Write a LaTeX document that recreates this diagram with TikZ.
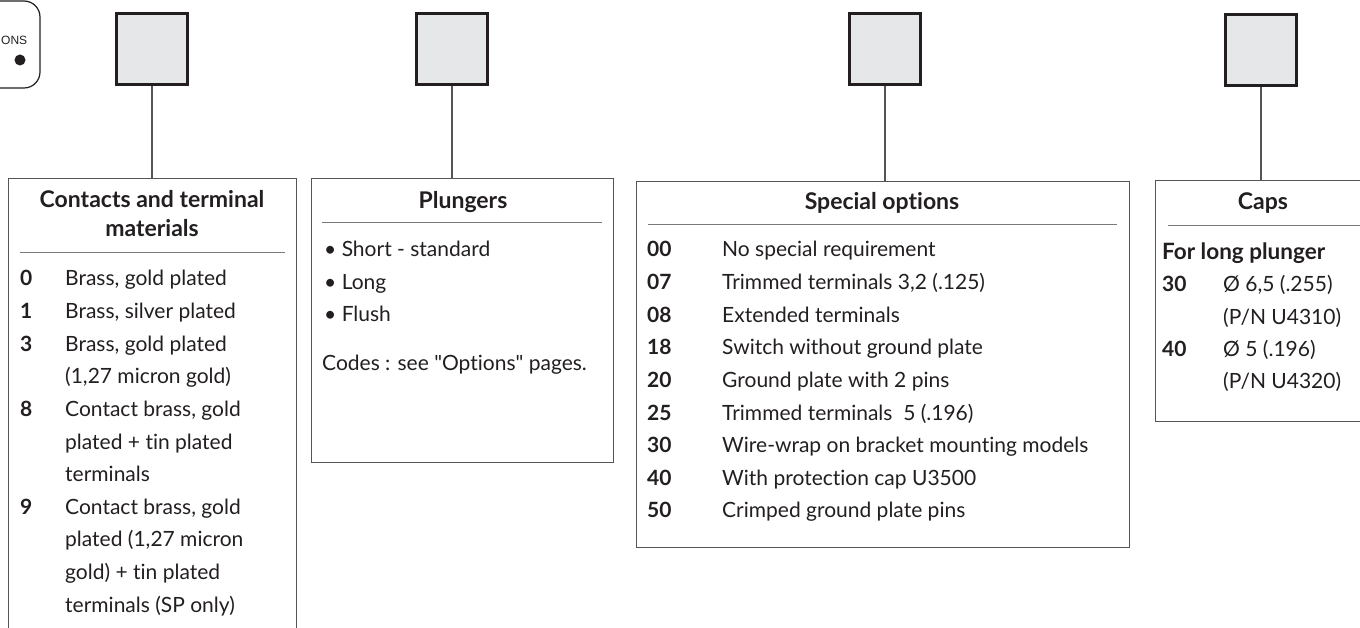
\documentclass[tikz,border=0pt]{standalone}
\usepackage{fontspec}
\setmainfont{Lato}[Ligatures={NoCommon,TeXOff}]
\newfontfamily\arialf{Liberation Sans}
\definecolor{ink}{HTML}{231F20}
\definecolor{sqfill}{HTML}{E6E7E8}
\definecolor{frame}{HTML}{555555}
\definecolor{rulec}{HTML}{7A7A7A}
\begin{document}
\begin{tikzpicture}[x=1pt,y=-1pt,
  sq/.style={draw=ink,fill=sqfill,line width=2.6pt,minimum width=71pt,minimum height=71pt,inner sep=0pt},
  panel/.style={draw=frame,line width=1.2pt,inner sep=0pt,anchor=north west},
  conn/.style={draw=frame,line width=1.2pt},
  rulel/.style={draw=rulec,line width=1pt},
  ttl/.style={font=\fontsize{23}{27}\selectfont\bfseries,text=ink,anchor=base,inner sep=0pt},
  hdr/.style={font=\fontsize{22.5}{27}\selectfont\bfseries,text=ink,anchor=base west,inner sep=0pt},
  num/.style={font=\fontsize{21}{25}\selectfont\bfseries,text=ink,anchor=base west,inner sep=0pt},
  txt/.style={font=\fontsize{21}{25}\selectfont,text=ink,anchor=base west,inner sep=0pt}]
\useasboundingbox (0,0) rectangle (1360,628);
\clip (0,0) rectangle (1360,628);
\fill[white] (0,0) rectangle (1360,628);

% top-left partial option box
\draw[ink,line width=1.2pt,rounded corners=16pt] (-200,1) -- (40,1) -- (40,88) -- (-200,88);
\node[font=\arialf\fontsize{12}{14}\selectfont,text=ink,anchor=base west,inner sep=0pt] (opt) at (1,45) {ONS};
\fill[ink] (20,60) circle (5.5pt);

% squares
\node[sq] (s1) at (152,49) {};
\node[sq] (s2) at (452,49) {};
\node[sq] (s3) at (885,49) {};
\node[sq] (s4) at (1261,50) {};

% panels
\node[panel,minimum width=288pt,minimum height=520pt] (b1) at (8,178) {};
\node[panel,minimum width=302pt,minimum height=284pt] (b2) at (311,178) {};
\node[panel,minimum width=493pt,minimum height=366pt] (b3) at (636,181) {};
\node[panel,minimum width=260pt,minimum height=241pt] (b4) at (1155,180) {};

% connectors
\draw[conn] (s1.south) -- (s1.south |- b1.north);
\draw[conn] (s2.south) -- (s2.south |- b2.north);
\draw[conn] (s3.south) -- (s3.south |- b3.north);
\draw[conn] (s4.south) -- (s4.south |- b4.north);

% panel 1
\node[ttl] (t1a) at (152,208) {Contacts and terminal};
\node[ttl] (t1b) at (152,237) {materials};
\draw[rulel] (20,253) -- (285,253);
\node[num] (n10) at (20,286) {0};   \node[txt] (x10) at (65,286) {Brass, gold plated};
\node[num] (n11) at (20,318.6) {1}; \node[txt] (x11) at (65,318.6) {Brass, silver plated};
\node[num] (n13) at (20,351.2) {3}; \node[txt] (x13) at (65,351.2) {Brass, gold plated};
                                    \node[txt] (x13b) at (65,383.8) {(1,27 micron gold)};
\node[num] (n18) at (20,416.4) {8}; \node[txt] (x18) at (65,416.4) {Contact brass, gold};
                                    \node[txt] (x18b) at (65,449) {plated + tin plated};
                                    \node[txt] (x18c) at (65,481.6) {terminals};
\node[num] (n19) at (20,514.2) {9}; \node[txt] (x19) at (65,514.2) {Contact brass, gold};
                                    \node[txt] (x19b) at (65,546.8) {plated (1,27 micron};
                                    \node[txt] (x19c) at (65,579.4) {gold) + tin plated};
                                    \node[txt] (x19d) at (65,612) {terminals (SP only)};

% panel 2
\node[ttl] (t2) at (463,209) {Plungers};
\draw[rulel] (322,223) -- (602,223);
\node[txt] (p1) at (324,257) {\textbullet\ Short - standard};
\node[txt] (p2) at (324,290) {\textbullet\ Long};
\node[txt] (p3) at (324,322) {\textbullet\ Flush};
\node[txt] (p4) at (322,370) {Codes : see "Options" pages.};

% panel 3
\node[ttl] (t3) at (882,210) {Special options};
\draw[rulel] (648,225) -- (1117,225);
\node[num] (n300) at (647,257) {00}; \node[txt] (x300) at (722,257) {No special requirement};
\node[num] (n307) at (647,289.6) {07}; \node[txt] (x307) at (722,289.6) {Trimmed terminals 3,2 (.125)};
\node[num] (n308) at (647,322.2) {08}; \node[txt] (x308) at (722,322.2) {Extended terminals};
\node[num] (n318) at (647,354.8) {18}; \node[txt] (x318) at (722,354.8) {Switch without ground plate};
\node[num] (n320) at (647,387.4) {20}; \node[txt] (x320) at (722,387.4) {Ground plate with 2 pins};
\node[num] (n325) at (647,420) {25}; \node[txt] (x325) at (722,420) {Trimmed terminals\ \ 5 (.196)};
\node[num] (n330) at (647,452.6) {30}; \node[txt] (x330) at (722,452.6) {Wire-wrap on bracket mounting models};
\node[num] (n340) at (647,485.2) {40}; \node[txt] (x340) at (722,485.2) {With protection cap U3500};
\node[num] (n350) at (647,517.8) {50}; \node[txt] (x350) at (722,517.8) {Crimped ground plate pins};

% panel 4
\node[ttl] (t4) at (1263,210) {Caps};
\draw[rulel] (1168,226) -- (1400,226);
\node[hdr] (n4h) at (1162,260) {For long plunger};
\node[num] (n430) at (1162,292) {30}; \node[txt] (x430) at (1223,292) {Ø 6,5 (.255)};
                                     \node[txt] (x430b) at (1223,324) {(P/N U4310)};
\node[num] (n440) at (1162,356) {40}; \node[txt] (x440) at (1223,356) {Ø 5 (.196)};
                                     \node[txt] (x440b) at (1223,388) {(P/N U4320)};
\end{tikzpicture}
\end{document}
